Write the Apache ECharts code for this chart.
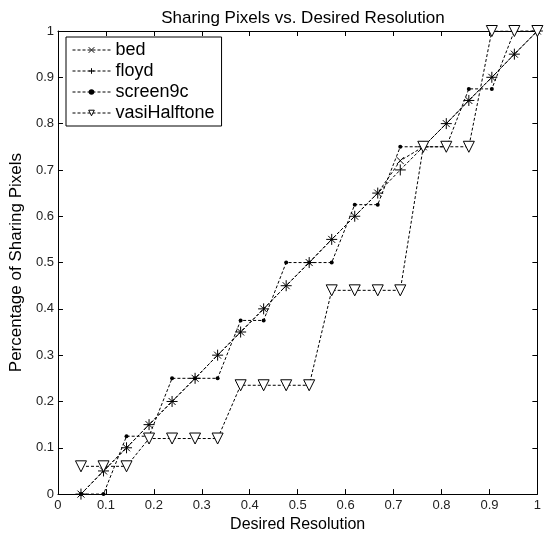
<!DOCTYPE html>
<html>
<head>
<meta charset="utf-8">
<script src="https://cdn.jsdelivr.net/npm/echarts@6/dist/echarts.min.js"></script>
<style>
html,body{margin:0;padding:0;background:#fff;}
#chart{width:544px;height:538px;}
</style>
</head>
<body>
<div id="chart"></div>
<script>
const titleText = 'Sharing Pixels vs. Desired Resolution';
const xName = 'Desired Resolution';
const yName = 'Percentage of Sharing Pixels';
const seriesNames = ['bed', 'floyd', 'screen9c', 'vasiHalftone'];
const xValues = [0.048,0.095,0.143,0.190,0.238,0.286,0.333,0.381,0.429,0.476,0.524,0.571,0.619,0.667,0.714,0.762,0.810,0.857,0.905,0.952,1.0];
const bed = [0,0.05,0.10,0.15,0.20,0.25,0.30,0.35,0.40,0.45,0.50,0.55,0.60,0.65,0.72,0.75,0.80,0.85,0.90,0.95,1.0];
const floyd = [0,0.05,0.10,0.15,0.20,0.25,0.30,0.35,0.40,0.45,0.50,0.55,0.60,0.65,0.70,0.75,0.80,0.85,0.90,0.95,1.0];
const screen9c = [0,0,0.125,0.125,0.25,0.25,0.25,0.375,0.375,0.5,0.5,0.5,0.625,0.625,0.75,0.75,0.75,0.875,0.875,1,1];
const vasiHalftone = [0.06,0.06,0.06,0.12,0.12,0.12,0.12,0.235,0.235,0.235,0.235,0.44,0.44,0.44,0.44,0.75,0.75,0.75,1,1,1];
const tickLabels = ['0','0.1','0.2','0.3','0.4','0.5','0.6','0.7','0.8','0.9','1'];

const font = '"Liberation Sans", Arial, sans-serif';
const pairs = ys => xValues.map((x, i) => [x, ys[i]]);
const fmt = v => tickLabels[Math.round(v * 10)];

const symX = 'path://M0,0 L10,10 M10,0 L0,10';
const symPlus = 'path://M0,5 L10,5 M5,0 L5,10';
const symTri = 'path://M0,0 L10,0 L5,9 Z';

function mkSeries(name, ys, symbol, size, itemStyle) {
  return {
    name, type: 'line', data: pairs(ys), symbol, symbolSize: size,
    showAllSymbol: true, animation: false,
    lineStyle: { color: '#000', width: 1, type: [3, 2] },
    itemStyle, emphasis: { disabled: true }
  };
}

const axisCommon = {
  type: 'value', min: 0, max: 1, interval: 0.1,
  axisLine: { show: true, onZero: false, lineStyle: { color: '#000', width: 1 } },
  axisTick: { show: true, inside: true, length: 5, lineStyle: { color: '#000' } },
  splitLine: { show: false }
};

const chart = echarts.init(document.getElementById('chart'), null, { renderer: 'canvas' });
chart.setOption({
  backgroundColor: '#fff',
  animation: false,
  title: {
    text: titleText, left: 298, textAlign: 'center', top: 5,
    textStyle: { fontFamily: font, fontSize: 17, fontWeight: 'normal', color: '#000' }
  },
  grid: { left: 56, right: 3, top: 31, bottom: 43 },
  legend: {
    data: seriesNames, orient: 'vertical', left: 66, top: 37,
    backgroundColor: '#fff', borderColor: '#000', borderWidth: 1, borderRadius: 0,
    padding: [4, 7, 4, 6], itemGap: 3, itemWidth: 38, itemHeight: 7,
    textStyle: { fontFamily: font, fontSize: 18, color: '#000' },
    lineStyle: { width: 1 },
    itemStyle: { borderWidth: 1 },
    selectedMode: false
  },
  xAxis: [
    Object.assign({}, axisCommon, {
      position: 'bottom', name: xName, nameLocation: 'middle', nameGap: 22,
      nameTextStyle: { fontFamily: font, fontSize: 16, color: '#000' },
      axisLabel: { formatter: fmt, fontFamily: font, fontSize: 13, color: '#222', margin: 5 }
    }),
    Object.assign({}, axisCommon, { position: 'top', axisLabel: { show: false } })
  ],
  yAxis: [
    Object.assign({}, axisCommon, {
      position: 'left', name: yName, nameLocation: 'middle', nameGap: 26,
      nameTextStyle: { fontFamily: font, fontSize: 17, color: '#000' },
      axisLabel: { formatter: fmt, fontFamily: font, fontSize: 13, color: '#222', margin: 4 }
    }),
    Object.assign({}, axisCommon, { position: 'right', axisLabel: { show: false } })
  ],
  series: [
    mkSeries('bed', bed, symX, 7, { color: 'none', borderColor: '#000', borderWidth: 1 }),
    mkSeries('floyd', floyd, symPlus, 11, { color: 'none', borderColor: '#000', borderWidth: 1 }),
    mkSeries('screen9c', screen9c, 'circle', 4, { color: '#000', borderWidth: 0 }),
    mkSeries('vasiHalftone', vasiHalftone, symTri, 11, { color: '#fff', borderColor: '#000', borderWidth: 1 })
  ]
});
</script>
</body>
</html>
